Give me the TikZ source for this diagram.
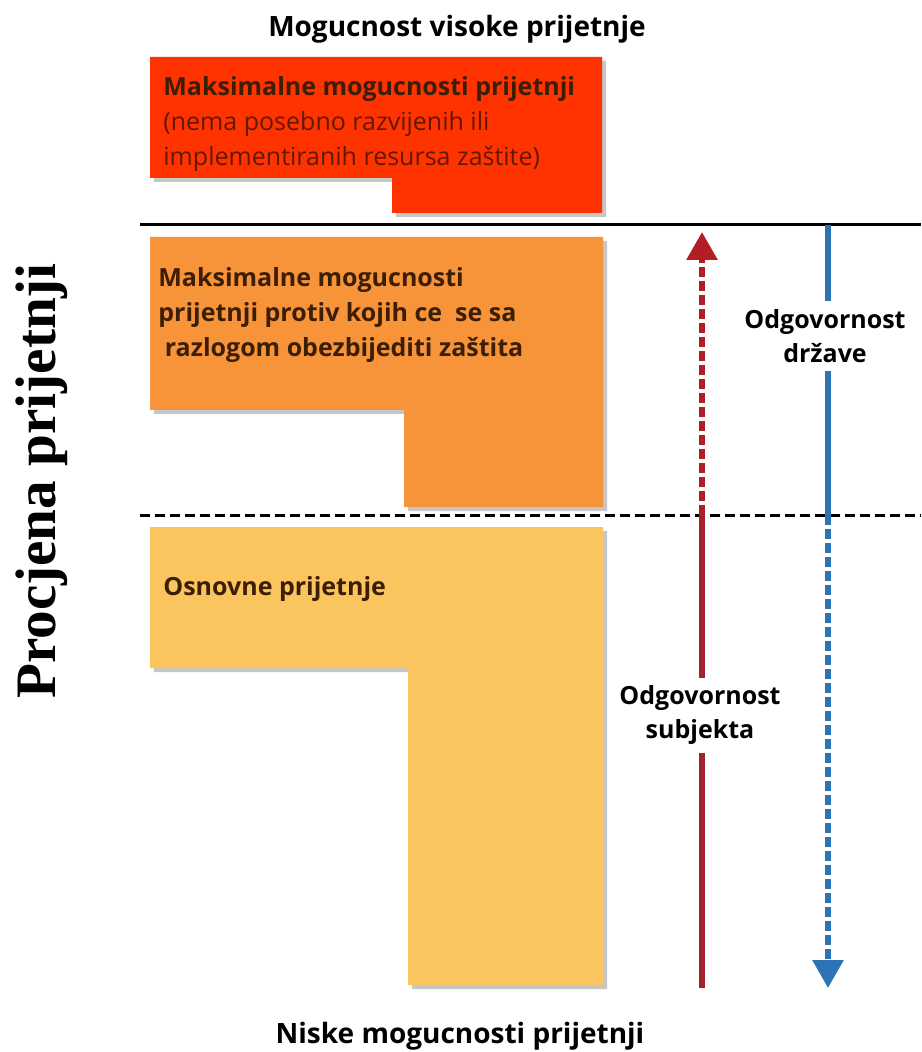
\documentclass[tikz,border=0pt]{standalone}
\usepackage{fontspec}
\setmainfont{Open Sans}
\newfontfamily\titlefont{Liberation Serif}
\usetikzlibrary{arrows.meta,shadows}
\definecolor{redbox}{HTML}{FF3300}
\definecolor{orangebox}{HTML}{F7943A}
\definecolor{yellowbox}{HTML}{FAC55E}
\definecolor{boxtext}{HTML}{3C1E05}
\definecolor{subjred}{HTML}{A3232C}
\definecolor{stateblue}{HTML}{2C74B5}
\tikzset{
    every node/.style={align=center,},
    level/.style={draw=none,drop shadow={shadow xshift=2pt,shadow yshift=-2pt,opacity=0.45},},
    boxtxt/.style={anchor=north west,align=left,inner sep=0pt,text=boxtext,font=\bfseries\fontsize{12.5}{17.5}\selectfont,},
    resp/.style={fill=white,inner sep=4pt,font=\bfseries\fontsize{12.5}{17}\selectfont,},
    axis/.style={font=\bfseries\fontsize{14}{16}\selectfont,},
    duty/.style={line width=3pt,},
}

\begin{document}
\begin{tikzpicture}[x=0.5pt,y=-0.5pt]
        \useasboundingbox (0,0) rectangle (921,1052);

        % threat levels
        \path[level,fill=redbox] (150,57) -- (602,57) -- (602,213) -- (392,213) -- (392,178) -- (150,178) -- cycle;
        \path[level,fill=orangebox] (150,237) -- (603,237) -- (603,507) -- (404,507) -- (404,410) -- (150,410) -- cycle;
        \path[level,fill=yellowbox] (150,527) -- (603,527) -- (603,985) -- (408,985) -- (408,668) -- (150,668) -- cycle;

        \node[boxtxt] (high) at (163,76) {Maksimalne mogucnosti prijetnji\\
            {\mdseries\color{boxtext!80!red}(nema posebno razvijenih ili}\\
            {\mdseries\color{boxtext!80!red}implementiranih resursa zaštite)}};
        \node[boxtxt] (design) at (158,267) {Maksimalne mogucnosti\\prijetnji protiv kojih ce\ \ se sa\\\ razlogom obezbijediti zaštita};
        \node[boxtxt] (basic) at (163,576) {Osnovne prijetnje};

        \node[axis] (top) at (457,29) {Mogucnost visoke prijetnje};
        \node[axis] (bottom) at (460,1036) {Niske mogucnosti prijetnji};
        \node[rotate=90,font=\titlefont\bfseries\fontsize{28.6}{30}\selectfont] (assess) at (42,481) {Procjena prijetnji};

        % borders
        \coordinate (solid left) at (140,225);
        \coordinate (solid right) at (921,225);
        \coordinate (dash left) at (140,515);
        \coordinate (dash right) at (921,515);
        \draw[line width=1.5pt] (solid left) -- (solid right);
        \draw[line width=1.5pt,dash pattern=on 5pt off 2.5pt] (dash left) -- (dash right);

        % responsibility
        \coordinate (subj end) at (702,988);
        \coordinate (subj mid) at (702,515);
        \coordinate (subj tip) at (702,232);
        \coordinate (state start) at (828,225);
        \coordinate (state mid) at (828,515);
        \coordinate (state tip) at (828,988);

        \draw[duty,subjred] (subj end) -- (subj mid);
        \draw[duty,subjred!85!red,dash pattern=on 5pt off 2pt,-{Triangle[width=15pt,length=14pt]}] (subj mid) -- (subj tip);
        \draw[duty,stateblue] (state start) -- (state mid);
        \draw[duty,stateblue,dash pattern=on 5pt off 2pt,-{Triangle[width=15pt,length=14pt]}] (state mid) -- (state tip);

        \node[resp] (subject) at (700,715) {Odgovornost\\subjekta};
        \node[resp] (state) at (825,336) {Odgovornost\\države};
    \end{tikzpicture}
\end{document}
